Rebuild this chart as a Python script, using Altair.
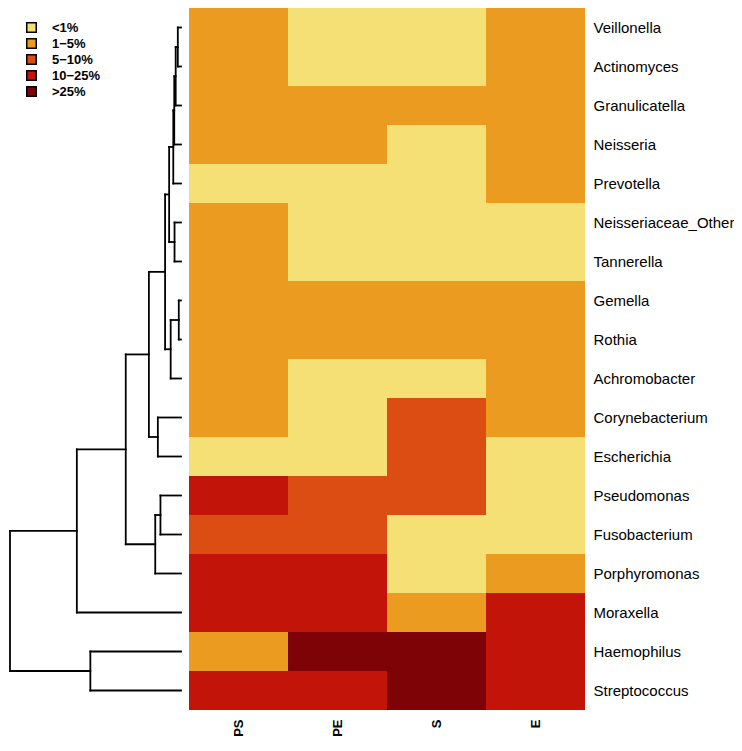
import altair as alt
import pandas as pd

# ---------------- data ----------------
taxa = ["Veillonella", "Actinomyces", "Granulicatella", "Neisseria", "Prevotella",
        "Neisseriaceae_Other", "Tannerella", "Gemella", "Rothia", "Achromobacter",
        "Corynebacterium", "Escherichia", "Pseudomonas", "Fusobacterium",
        "Porphyromonas", "Moraxella", "Haemophilus", "Streptococcus"]
samples = ["PS", "PE", "S", "E"]
levels = ["<1%", "1\u22125%", "5\u221210%", "10\u221225%", ">25%"]
level_colors = ["#F4E075", "#EB9B20", "#DB4D13", "#C21408", "#7D0306"]

# abundance class (index into levels) for each sample, in taxa order
PS = [1, 1, 1, 1, 0, 1, 1, 1, 1, 1, 1, 0, 3, 2, 3, 3, 1, 3]
PE = [0, 0, 1, 1, 0, 0, 0, 1, 1, 0, 0, 0, 2, 2, 3, 3, 4, 3]
S  = [0, 0, 1, 0, 0, 0, 0, 1, 1, 0, 2, 2, 2, 0, 0, 1, 4, 4]
E  = [1, 1, 1, 1, 1, 0, 0, 1, 1, 1, 1, 0, 0, 0, 1, 3, 3, 3]

# dendrogram merges (row clustering)
merge_left = ["Veillonella", "m1", "m2", "m3", "Neisseriaceae_Other", "m4",
              "Gemella", "m7", "m6", "Corynebacterium", "m9", "Pseudomonas",
              "m12", "m11", "m14", "Haemophilus", "m15"]
merge_right = ["Actinomyces", "Granulicatella", "Neisseria", "Prevotella",
               "Tannerella", "m5", "Rothia", "Achromobacter", "m8", "Escherichia",
               "m10", "Fusobacterium", "Porphyromonas", "m13", "Moraxella",
               "Streptococcus", "m16"]
merge_height = [3.3, 5.5, 7.0, 8.0, 6.7, 12.3, 2.3, 10.7, 16.5, 24.0, 33.3,
                21.3, 26.7, 57.3, 108.0, 94.0, 177.3]

FONT = "Liberation Sans"

# ---------------- heatmap table ----------------
cells = []
for s, vals in zip(samples, [PS, PE, S, E]):
    for t, v in zip(taxa, vals):
        cells.append({"sample": s, "taxon": t, "level": levels[v]})
heat_df = pd.DataFrame(cells)

# ---------------- dendrogram segments ----------------
pos = {t: (float(i), 0.0) for i, t in enumerate(taxa)}
segs = []
for k, (a, b, h) in enumerate(zip(merge_left, merge_right, merge_height), start=1):
    ya, ha = pos[a]
    yb, hb = pos[b]
    segs.append({"x": h, "x2": h, "y": ya, "y2": yb})
    segs.append({"x": h, "x2": ha, "y": ya, "y2": ya})
    segs.append({"x": h, "x2": hb, "y": yb, "y2": yb})
    pos["m%d" % k] = ((ya + yb) / 2.0, h)
seg_df = pd.DataFrame(segs)

ROW_H = 39
H = ROW_H * len(taxa)

dendro = alt.Chart(seg_df).mark_rule(color="black", strokeWidth=1.8, strokeCap="square").encode(
    x=alt.X("x:Q", axis=None,
            scale=alt.Scale(domain=[0, max(merge_height)], reverse=True, nice=False, zero=False)),
    x2="x2:Q",
    y=alt.Y("y:Q", axis=None,
            scale=alt.Scale(domain=[-0.5, len(taxa) - 0.5], reverse=True, nice=False, zero=False)),
    y2="y2:Q",
).properties(width=171, height=H)

heat = alt.Chart(heat_df).mark_rect(strokeWidth=0).encode(
    x=alt.X("sample:N", sort=samples, title=None,
            scale=alt.Scale(paddingInner=0, paddingOuter=0),
            axis=alt.Axis(orient="bottom", labelAngle=270, labelFontSize=13,
                          labelFontWeight="bold",
                          labelFont=FONT, labelColor="black", domain=False,
                          ticks=False, labelPadding=9)),
    y=alt.Y("taxon:N", sort=taxa, title=None,
            scale=alt.Scale(paddingInner=0, paddingOuter=0),
            axis=alt.Axis(orient="right", labelFontSize=15, labelFont=FONT,
                          labelColor="black", domain=False, ticks=False,
                          labelPadding=8)),
    color=alt.Color("level:N", sort=levels,
                    scale=alt.Scale(domain=levels, range=level_colors),
                    legend=alt.Legend(orient="none", legendX=15, legendY=13,
                                      title=None, symbolType="square",
                                      symbolSize=90, symbolStrokeColor="black",
                                      symbolStrokeWidth=1.5, symbolOpacity=1,
                                      labelFontSize=13, labelFontWeight="bold",
                                      labelFont=FONT,
                                      labelColor="black", labelOffset=14,
                                      rowPadding=-1)),
).properties(width=396, height=H)

chart = alt.hconcat(dendro, heat, spacing=6).properties(
    padding={"left": 0, "top": 0, "right": 0, "bottom": 8}
).configure_view(stroke=None).configure_concat(spacing=6)

chart.save("out.html", embed_options={"renderer": "svg", "actions": False})
